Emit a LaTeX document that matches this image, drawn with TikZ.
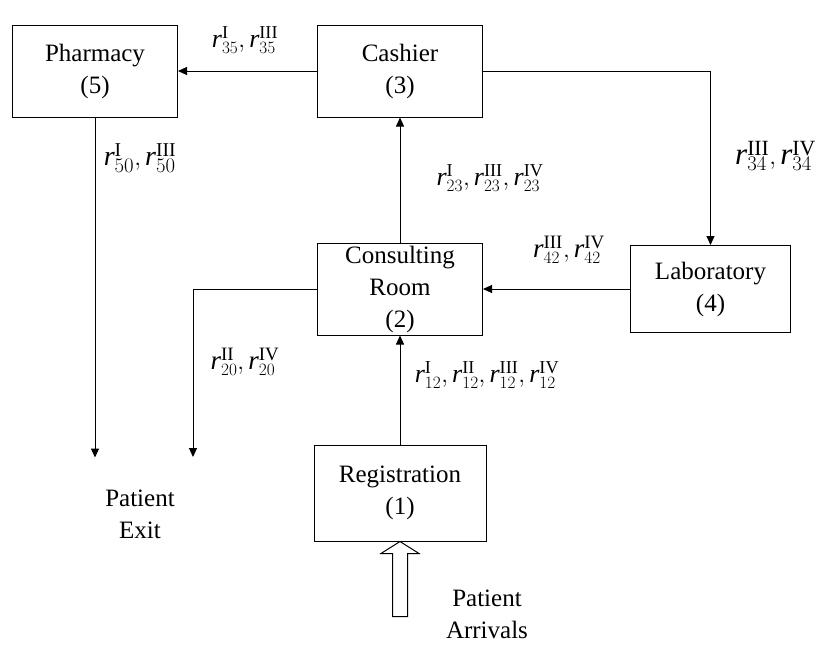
\documentclass[tikz,border=0pt]{standalone}
\usepackage{fontspec}
\setmainfont{Liberation Serif}
\usetikzlibrary{positioning,arrows.meta}
\newcommand{\rate}[2]{\mathit{r}^{\mathrm{#1}}_{#2}}

\begin{document}
\begin{tikzpicture}[station/.style={rectangle, draw, line width=1pt, minimum width=165pt, minimum height=92pt, inner sep=2pt, align=center, font=\fontsize{25}{32}\selectfont}, default/.style={align=center, font=\fontsize{25}{32}\selectfont}, flow/.style={line width=1pt, -{Triangle[length=9pt, width=8pt]}}, label/.style={inner sep=0pt}, node distance=125pt]
      \useasboundingbox (0,0) rectangle (820pt,-645pt);

      \node [station] (cashier) at (400pt,-71pt) {Cashier\\(3)};

      \node [station, left = 139pt of cashier] (pharmacy) {Pharmacy\\(5)};

      \node [station, below = of cashier] (consult) {Consulting\\Room\\(2)};

      \node [station, right = 147pt of consult, minimum width=160pt, minimum height=87pt] (lab) {Laboratory\\(4)};

      \node [station, below = 109pt of consult, minimum width=172pt, minimum height=96pt] (reg) {Registration\\(1)};

      \coordinate [below = 340pt of pharmacy.south] (exitPharm);

      \coordinate (exitConsult) at (193pt,-457pt);

      \node [default] (exit) at (140pt,-514pt) {Patient\\Exit};

      \node [default] (arrivals) at (487pt,-614pt) {Patient\\Arrivals};

      \path[flow] (cashier) edge (pharmacy);

      \draw[flow] (cashier.east) -| (lab.north);

      \path[flow] (consult) edge (cashier);

      \path[flow] (lab) edge (consult);

      \path[flow] (reg) edge (consult);

      \path[flow] (pharmacy) edge (exitPharm);

      \draw[flow] (consult.west) -| (exitConsult);

      \draw[line width=1pt] (reg.south) -- ++(-19pt,-12pt) -- ++(11.5pt,0) -- ++(0,-63pt) -- ++(15pt,0) -- ++(0,63pt) -- ++(11.5pt,0) -- cycle;

      \node [label, font=\fontsize{26}{26}\selectfont] (r35) at (245pt,-40pt) {$\rate{I}{35}, \rate{III}{35}$};

      \node [label, font=\fontsize{31}{31}\selectfont, anchor=west] (r34) at (735pt,-156pt) {$\rate{III}{34}, \rate{IV}{34}$};

      \node [label, font=\fontsize{26}{26}\selectfont] (r23) at (490pt,-178pt) {$\rate{I}{23}, \rate{III}{23}, \rate{IV}{23}$};

      \node [label, font=\fontsize{27}{27}\selectfont] (r42) at (569pt,-250pt) {$\rate{III}{42}, \rate{IV}{42}$};

      \node [label, font=\fontsize{28}{28}\selectfont] (r50) at (140pt,-158pt) {$\rate{I}{50}, \rate{III}{50}$};

      \node [label, font=\fontsize{27}{27}\selectfont] (r20) at (245pt,-362pt) {$\rate{II}{20}, \rate{IV}{20}$};

      \node [label, font=\fontsize{26}{26}\selectfont] (r12) at (487pt,-375pt) {$\rate{I}{12}, \rate{II}{12}, \rate{III}{12}, \rate{IV}{12}$};
    \end{tikzpicture}
\end{document}
